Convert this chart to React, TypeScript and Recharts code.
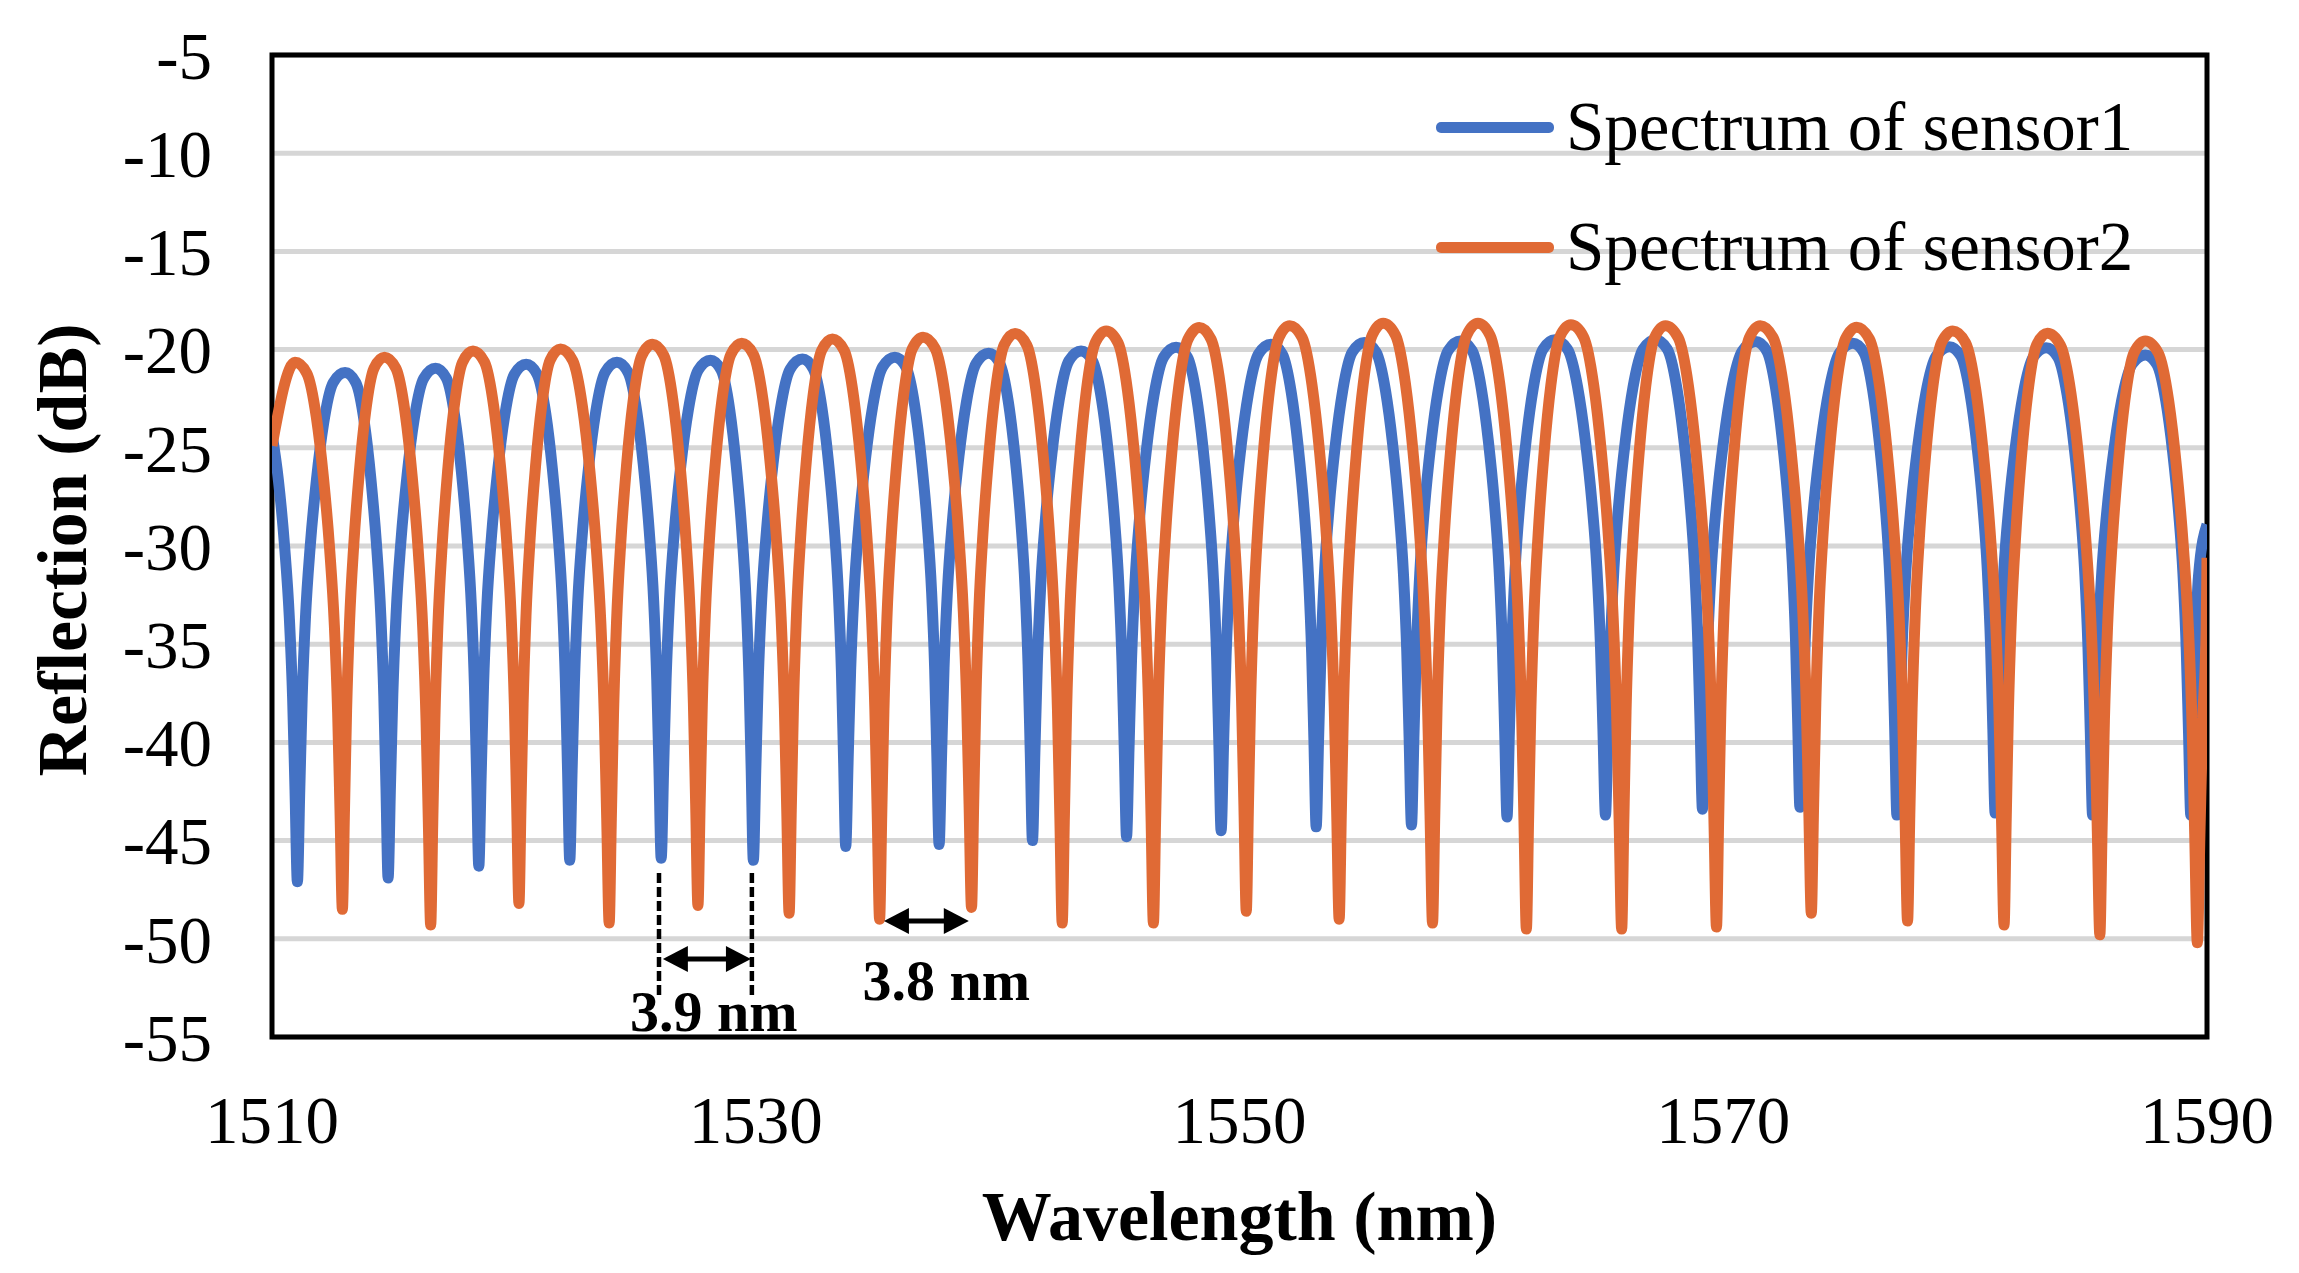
import React from 'react'
import {
  LineChart,
  Line,
  XAxis,
  YAxis,
  CartesianGrid,
  Legend,
  Label,
  ReferenceLine,
  ReferenceDot,
  ReferenceArea
} from 'recharts'

const SERIF = '"Liberation Serif", "Times New Roman", serif'
const BLUE = '#4472C4'
const ORANGE = '#E06A35'

// axis ticks
const xTicks = [1510, 1530, 1550, 1570, 1590]
const yTicks = [-55, -50, -45, -40, -35, -30, -25, -20, -15, -10, -5]

// sensor 1 (blue): fringe minima and maxima
const blueDipNm = [1511.05, 1514.8, 1518.55, 1522.31, 1526.09, 1529.9, 1533.72, 1537.58, 1541.44, 1545.33, 1549.24, 1553.17, 1557.11, 1561.06, 1565.13, 1569.14, 1573.17, 1577.18, 1581.24, 1585.27, 1589.33]
const blueDipDb = [-47.1, -46.9, -46.3, -46.0, -45.9, -46.0, -45.3, -45.2, -45.0, -44.8, -44.5, -44.3, -44.2, -43.8, -43.7, -43.4, -43.3, -43.7, -43.6, -43.7, -43.7]
const bluePeakNm = [1513.02, 1516.76, 1520.51, 1524.26, 1528.13, 1531.93, 1535.75, 1539.63, 1543.45, 1547.38, 1551.3, 1555.16, 1559.13, 1563.04, 1567.2, 1571.34, 1575.36, 1579.35, 1583.35, 1587.45]
const bluePeakDb = [-21.17, -20.95, -20.75, -20.65, -20.54, -20.48, -20.39, -20.19, -20.07, -19.88, -19.73, -19.64, -19.56, -19.5, -19.5, -19.59, -19.68, -19.85, -19.9, -20.27]
const blueEdgeDb = [-24.3, -28.9] // value at 1510 and at 1590

// sensor 2 (orange)
const orangeDipNm = [1512.91, 1516.56, 1520.21, 1523.94, 1527.61, 1531.38, 1535.12, 1538.92, 1542.67, 1546.44, 1550.28, 1554.12, 1557.98, 1561.86, 1565.8, 1569.72, 1573.64, 1577.62, 1581.61, 1585.57, 1589.6]
const orangeDipDb = [-48.5, -49.3, -48.2, -49.2, -48.3, -48.7, -49.0, -48.4, -49.2, -49.2, -48.6, -49.0, -49.2, -49.5, -49.5, -49.4, -48.7, -49.1, -49.3, -49.8, -50.2]
const orangePeakNm = [1510.95, 1514.65, 1518.31, 1521.93, 1525.73, 1529.42, 1533.17, 1536.92, 1540.72, 1544.49, 1548.34, 1552.08, 1555.94, 1559.86, 1563.7, 1567.61, 1571.53, 1575.52, 1579.49, 1583.4, 1587.45]
const orangePeakDb = [-20.65, -20.39, -20.07, -19.97, -19.73, -19.68, -19.46, -19.37, -19.18, -19.05, -18.88, -18.78, -18.66, -18.66, -18.74, -18.78, -18.78, -18.86, -19.05, -19.17, -19.56]
const orangeEdgeDb = [-24.9, -30.6]

// shape of one fringe flank:
// share of the dip-to-peak distance (u) vs share of the dip-to-peak depth (f)
const flankU = [0.05, 0.1, 0.17, 0.27, 0.4, 0.55, 0.75]
const flankF = [0.18, 0.36, 0.52, 0.66, 0.79, 0.9, 0.98]

// annotations
const spacingMarkNm = [1526.0, 1529.84]
const spacingMarkDb = [-46.65, -52.96]
const arrowBlueNm = [1526.16, 1529.8]
const arrowBlueDb = -51.03
const arrowOrangeNm = [1535.3, 1538.81]
const arrowOrangeDb = -49.09
const spacingLabels = [
  { text: '3.9 nm', x: 1528.27, y: -54.7 },
  { text: '3.8 nm', x: 1537.88, y: -53.1 }
]

type Pt = { x: number; y: number }

function buildSpectrum(dipNm: number[], dipDb: number[], peakNm: number[], peakDb: number[], edgeDb: number[]): Pt[] {
  const xMin = xTicks[0]
  const xMax = xTicks[xTicks.length - 1]
  const pts: Pt[] = [{ x: xMin, y: edgeDb[0] }, { x: xMax, y: edgeDb[1] }]
  const peaks = peakNm.map((x, i) => ({ x, y: peakDb[i] }))
  peaks.forEach(p => pts.push(p))

  dipNm.forEach((x, i) => {
    const y = dipDb[i]
    pts.push({ x, y })
    const left = [...peaks].reverse().find(p => p.x < x)
    const right = peaks.find(p => p.x > x)
    ;[-1, 1].forEach(side => {
      let nb = side < 0 ? left : right
      const other = side < 0 ? right : left
      const mirrored = !nb
      if (!nb && other) nb = { x: x - (other.x - x), y: other.y }
      if (!nb) return
      const edgeY = side < 0 ? edgeDb[0] : edgeDb[1]
      flankU.forEach((u, k) => {
        const px = x + u * (nb!.x - x)
        const py = y + flankF[k] * (nb!.y - y)
        if (px <= xMin || px >= xMax) return
        if (mirrored && py > edgeY) return
        pts.push({ x: px, y: py })
      })
    })
  })
  return pts.sort((a, b) => a.x - b.x)
}

const blueData = buildSpectrum(blueDipNm, blueDipDb, bluePeakNm, bluePeakDb, blueEdgeDb)
const orangeData = buildSpectrum(orangeDipNm, orangeDipDb, orangePeakNm, orangePeakDb, orangeEdgeDb)

const renderDoubleArrow = (p: any) => {
  const { x1, y1, x2 } = p
  const head = 25
  const half = 13
  return (
    <g>
      <line x1={x1 + head - 2} y1={y1} x2={x2 - head + 2} y2={y1} stroke="#000" strokeWidth={5} />
      <polygon points={`${x1},${y1} ${x1 + head},${y1 - half} ${x1 + head},${y1 + half}`} fill="#000" />
      <polygon points={`${x2},${y1} ${x2 - head},${y1 - half} ${x2 - head},${y1 + half}`} fill="#000" />
    </g>
  )
}

const renderSpacingLabel = (text: string) => (p: any) => (
  <text x={p.cx} y={p.cy} textAnchor="middle" fontFamily={SERIF} fontWeight="bold" fontSize={58} fill="#000">
    {text}
  </text>
)

const renderXTitle = (p: any) => {
  const vb = p.viewBox || { x: 272, y: 1037, width: 1935 }
  return (
    <text x={vb.x + vb.width / 2} y={vb.y + 203} textAnchor="middle" fontFamily={SERIF} fontWeight="bold" fontSize={70} fill="#000">
      Wavelength (nm)
    </text>
  )
}

const renderYTitle = (p: any) => {
  const vb = p.viewBox || { y: 55, height: 982 }
  const cx = 86
  const cy = vb.y + vb.height / 2 + 4
  return (
    <text x={cx} y={cy} transform={`rotate(-90 ${cx} ${cy})`} textAnchor="middle" fontFamily={SERIF} fontWeight="bold" fontSize={70} fill="#000">
      Reflection (dB)
    </text>
  )
}

const renderLegend = (props: any) => {
  const items = props.payload || []
  return (
    <div style={{ fontFamily: SERIF, fontSize: 69, color: '#000' }}>
      {items.map((it: any) => (
        <div key={it.value} style={{ height: 120, display: 'flex', alignItems: 'center', lineHeight: 1 }}>
          <span style={{ display: 'inline-block', width: 118, height: 11, borderRadius: 5, background: it.color, marginRight: 12 }} />
          <span>{it.value}</span>
        </div>
      ))}
    </div>
  )
}

export default function App() {
  return (
    <div style={{ position: 'absolute', left: 0, top: 0, width: 2299, height: 1273, background: '#fff' }}>
      <LineChart width={2299} height={1273} margin={{ top: 55, right: 92, left: 0, bottom: 0 }}>
        <CartesianGrid horizontal vertical={false} stroke="#d6d6d6" strokeWidth={5} />
        <XAxis
          type="number"
          dataKey="x"
          domain={[1510, 1590]}
          ticks={xTicks}
          allowDataOverflow
          axisLine={false}
          tickLine={false}
          tickMargin={52}
          height={236}
          tick={{ fill: '#000', fontSize: 67, fontFamily: SERIF }}
        >
          <Label content={renderXTitle} />
        </XAxis>
        <YAxis
          type="number"
          domain={[-55, -5]}
          ticks={yTicks}
          allowDataOverflow
          axisLine={false}
          tickLine={false}
          tickMargin={54}
          width={272}
          tick={{ fill: '#000', fontSize: 67, fontFamily: SERIF }}
        >
          <Label content={renderYTitle} />
        </YAxis>
        <Legend
          layout="vertical"
          align="center"
          verticalAlign="middle"
          content={renderLegend}
          wrapperStyle={{ left: 1436, top: 67, width: 800 }}
        />
        <Line
          data={blueData}
          dataKey="y"
          name="Spectrum of sensor1"
          type="monotone"
          stroke={BLUE}
          strokeWidth={11}
          strokeLinejoin="round"
          dot={false}
          activeDot={false}
          isAnimationActive={false}
        />
        <Line
          data={orangeData}
          dataKey="y"
          name="Spectrum of sensor2"
          type="monotone"
          stroke={ORANGE}
          strokeWidth={11}
          strokeLinejoin="round"
          dot={false}
          activeDot={false}
          isAnimationActive={false}
        />
        {spacingMarkNm.map(x => (
          <ReferenceLine
            key={x}
            segment={[{ x, y: spacingMarkDb[0] }, { x, y: spacingMarkDb[1] }]}
            stroke="#000"
            strokeWidth={4.5}
            strokeDasharray="10 4"
          />
        ))}
        <ReferenceLine
          segment={[{ x: arrowBlueNm[0], y: arrowBlueDb }, { x: arrowBlueNm[1], y: arrowBlueDb }]}
          shape={renderDoubleArrow}
        />
        <ReferenceLine
          segment={[{ x: arrowOrangeNm[0], y: arrowOrangeDb }, { x: arrowOrangeNm[1], y: arrowOrangeDb }]}
          shape={renderDoubleArrow}
        />
        {spacingLabels.map(l => (
          <ReferenceDot key={l.text} x={l.x} y={l.y} r={0} shape={renderSpacingLabel(l.text)} />
        ))}
        <ReferenceArea x1={1510} x2={1590} y1={-55} y2={-5} fill="none" stroke="#000" strokeWidth={5} ifOverflow="visible" />
      </LineChart>
    </div>
  )
}
